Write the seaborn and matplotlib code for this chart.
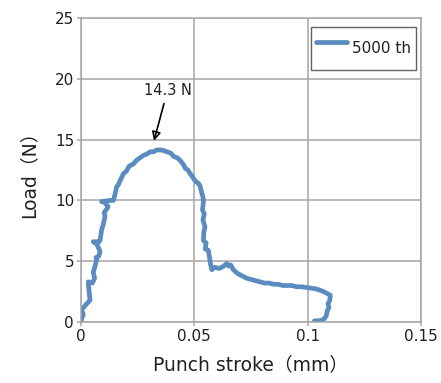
import matplotlib
matplotlib.use("Agg")
import matplotlib.pyplot as plt
import pandas as pd
import seaborn as sns

# load-stroke curve (mm, N)
stroke_mm = [
    0.0000, 0.0003, 0.0010, 0.0002, 0.0030, 0.0040, 0.0036, 0.0032, 0.0050, 0.0060,
    0.0054, 0.0062, 0.0069, 0.0066, 0.0078, 0.0084, 0.0070, 0.0054, 0.0080, 0.0084,
    0.0088, 0.0091, 0.0098, 0.0106, 0.0102, 0.0114, 0.0120, 0.0100, 0.0091, 0.0130,
    0.0143, 0.0150, 0.0157, 0.0165, 0.0172, 0.0180, 0.0187, 0.0200, 0.0212, 0.0231,
    0.0245, 0.0260, 0.0275, 0.0290, 0.0305, 0.0320, 0.0334, 0.0350, 0.0365, 0.0378,
    0.0395, 0.0410, 0.0425, 0.0437, 0.0450, 0.0462, 0.0472, 0.0481, 0.0490, 0.0500,
    0.0510, 0.0518, 0.0525, 0.0533, 0.0538, 0.0540, 0.0536, 0.0544, 0.0538, 0.0547,
    0.0542, 0.0540, 0.0552, 0.0548, 0.0562, 0.0565, 0.0569, 0.0572, 0.0577, 0.0590,
    0.0610, 0.0630, 0.0643, 0.0652, 0.0660, 0.0672, 0.0690, 0.0710, 0.0731, 0.0750,
    0.0770, 0.0790, 0.0810, 0.0830, 0.0850, 0.0870, 0.0890, 0.0910, 0.0930, 0.0950,
    0.0970, 0.0990, 0.1010, 0.1030, 0.1050, 0.1070, 0.1085, 0.1100, 0.1098, 0.1090,
    0.1094, 0.1086, 0.1082, 0.1070, 0.1050, 0.1030,
]
load_n = [
    0.0, 0.3, 0.6, 1.0, 1.6, 1.8, 2.4, 3.3, 3.2, 3.6,
    4.1, 4.6, 5.1, 5.3, 5.4, 5.8, 6.4, 6.6, 6.6, 6.7,
    7.2, 7.6, 8.0, 8.7, 9.0, 9.3, 9.5, 9.9, 9.9, 10.0,
    10.0, 10.5, 11.1, 11.3, 11.6, 11.9, 12.2, 12.4, 12.8, 13.0,
    13.3, 13.5, 13.7, 13.8, 14.0, 14.0, 14.15, 14.15, 14.1, 14.0,
    13.9, 13.6, 13.5, 13.3, 13.0, 12.6, 12.5, 12.2, 12.0, 11.7,
    11.5, 11.4, 11.2, 10.6, 10.3, 9.9, 9.2, 8.9, 8.4, 7.8,
    7.4, 6.7, 6.5, 6.0, 5.9, 5.5, 5.1, 4.7, 4.3, 4.5,
    4.4, 4.6, 4.8, 4.6, 4.7, 4.3, 4.0, 3.8, 3.6, 3.5,
    3.4, 3.3, 3.2, 3.2, 3.1, 3.1, 3.0, 3.0, 3.0, 2.9,
    2.9, 2.85, 2.8, 2.75, 2.65, 2.5, 2.35, 2.2, 1.8, 1.5,
    1.2, 0.9, 0.5, 0.2, 0.1, 0.1,
]
series_label = "5000 th"
peak_label = "14.3 N"
x_ticks = [0, 0.05, 0.1, 0.15]
x_tick_labels = ["0", "0.05", "0.1", "0.15"]
y_ticks = [0, 5, 10, 15, 20, 25]

df = pd.DataFrame({"stroke": stroke_mm, "load": load_n, "series": series_label})

sns.set_theme(style="white")
plt.rcParams["font.family"] = ["DejaVu Sans", "Noto Sans CJK JP"]

fig = plt.figure(figsize=(4.41, 3.83), dpi=100)
ax = fig.add_axes([0.1837, 0.1593, 0.7709, 0.7937])

sns.lineplot(
    data=df, x="stroke", y="load", hue="series", sort=False, estimator=None,
    palette=["#5b8cbf"], linewidth=3.4, ax=ax, solid_joinstyle="round",
)

ax.set_xlim(0, 0.15)
ax.set_ylim(0, 25)
ax.set_xticks(x_ticks)
ax.set_xticklabels(x_tick_labels)
ax.set_yticks(y_ticks)
ax.grid(True, color="#a6a6a6", linewidth=1.1)
ax.set_axisbelow(True)
for side in ["left", "bottom", "top", "right"]:
    ax.spines[side].set_color("#a6a6a6")
    ax.spines[side].set_linewidth(1.1)
ax.tick_params(axis="both", which="major", length=3, width=1.1, color="#a6a6a6",
               labelsize=11, labelcolor="#231f20", pad=2, left=True, bottom=True)

ax.set_xlabel("Punch stroke（mm）", fontsize=13.5, color="#231f20", labelpad=8)
ax.set_ylabel("Load（N）", fontsize=13.5, color="#231f20", labelpad=12)

ax.annotate(
    peak_label, xy=(0.0322, 14.9), xytext=(0.0382, 18.7),
    ha="center", va="baseline", fontsize=10.5, color="#231f20",
    arrowprops=dict(arrowstyle="-|>,head_length=0.5,head_width=0.25", color="black",
                    lw=1.2, shrinkA=2, shrinkB=0, fill=False),
)

leg = ax.legend(loc="upper right", frameon=True, fancybox=False, fontsize=11,
                handlelength=2.0, handletextpad=0.3, borderpad=0.35,
                handleheight=2.85, borderaxespad=0,
                bbox_to_anchor=(0.985, 0.971))
leg.get_frame().set_edgecolor("#3a3a3a")
leg.get_frame().set_linewidth(1.0)
for t in leg.get_texts():
    t.set_color("#231f20")

fig.savefig("out.png", dpi=100)
